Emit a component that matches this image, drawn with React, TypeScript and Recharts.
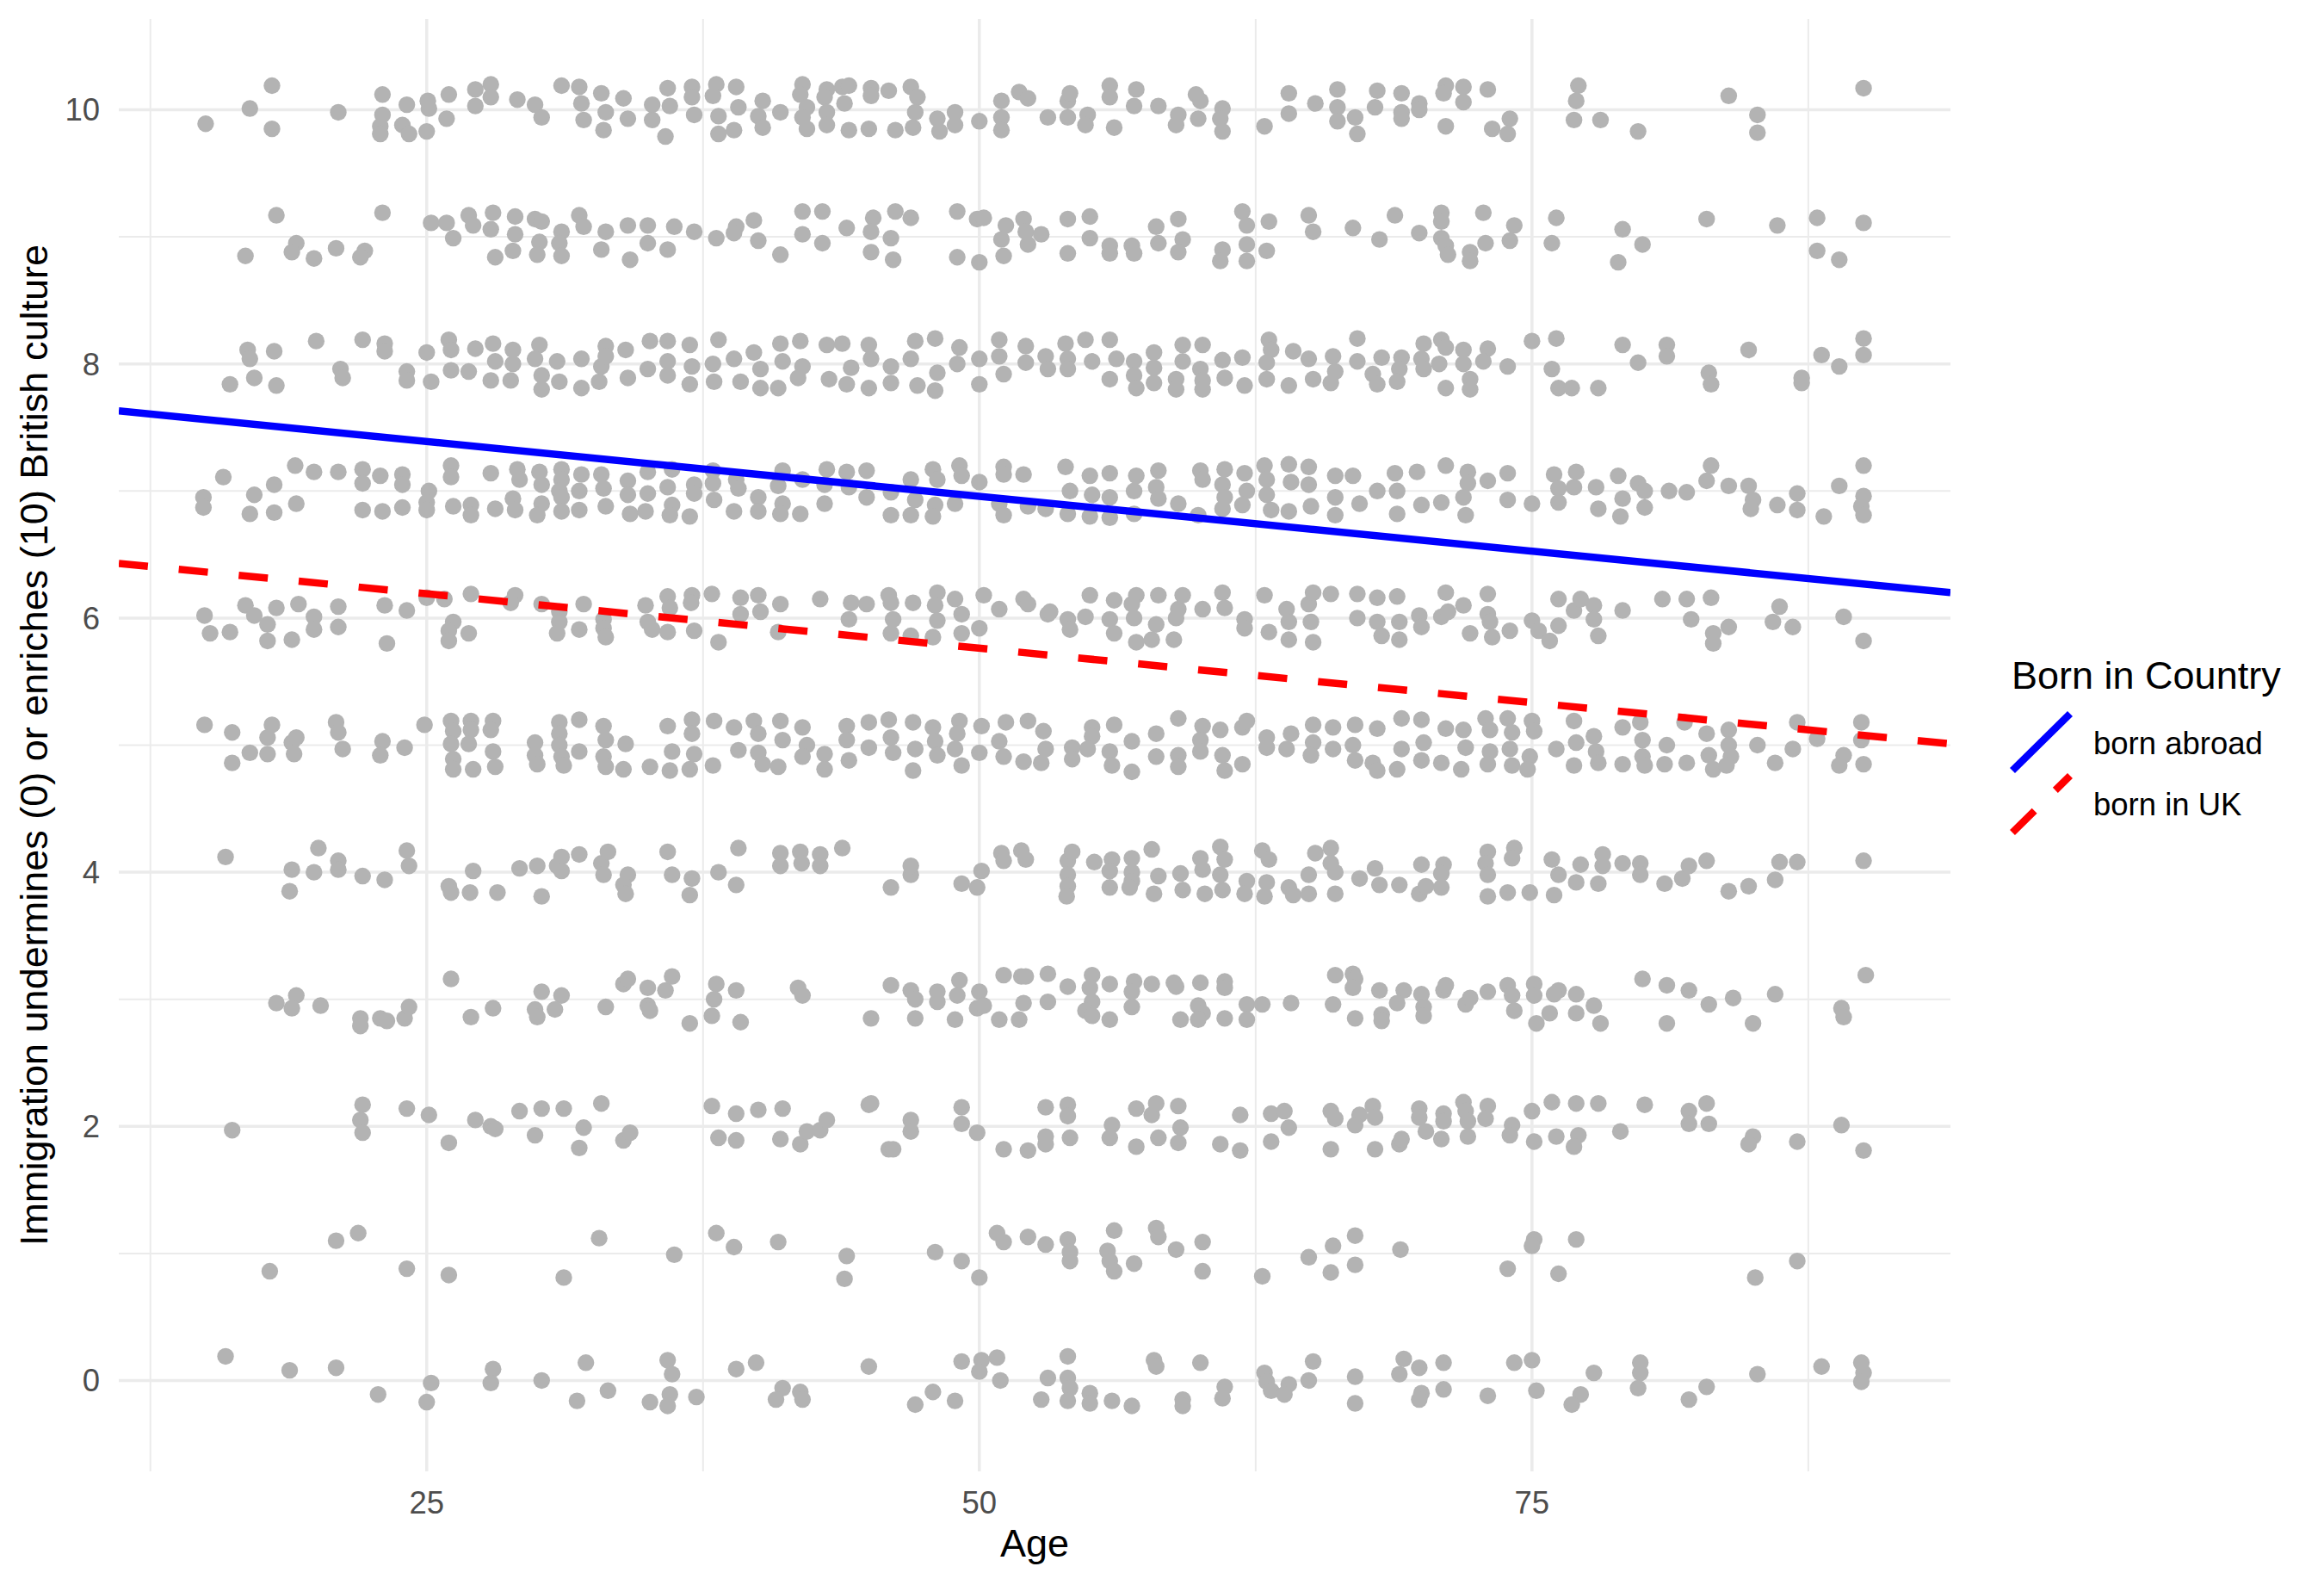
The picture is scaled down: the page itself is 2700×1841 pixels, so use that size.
import { CartesianGrid, Label, Scatter, ScatterChart, XAxis, YAxis } from 'recharts';

// jittered responses, one list per answer level: [age, jittered score]
const score10: [number, number][] = [
  [15.0, 9.89], [17.0, 10.01], [18.0, 10.19], [18.0, 9.85], [21.0, 9.98], [23.0, 10.12], [23.0, 9.96], [22.9, 9.87], [22.9, 9.81], [24.1, 10.04], [23.9, 9.88], [24.2, 9.81], [25.05, 10.07], [25.1, 10.01], [25.0, 9.83], [26.0, 10.12], [25.9, 9.93], [27.2, 10.16], [27.2, 10.03], [27.9, 10.2], [27.9, 10.1], [29.1, 10.08], [29.9, 10.04], [30.2, 9.94], [31.1, 10.19], [31.9, 10.18], [32.0, 10.05], [32.1, 9.92], [32.9, 10.13], [33.1, 9.98], [33.0, 9.84], [33.9, 10.09], [34.1, 9.93], [35.2, 10.04], [35.2, 9.92], [35.9, 10.17], [36.0, 10.03], [35.8, 9.79], [37.0, 10.18], [37.0, 10.1], [37.1, 9.96], [38.1, 10.2], [37.95, 10.11], [38.2, 9.95], [38.2, 9.81], [39.0, 10.18], [39.1, 10.02], [38.9, 9.84], [40.2, 10.07], [40.0, 9.95], [40.2, 9.86], [41.0, 9.98], [42.0, 10.2], [41.9, 10.12], [42.2, 10.02], [42.0, 9.94], [42.2, 9.85], [43.1, 10.16], [43.0, 10.1], [43.1, 9.98], [43.1, 9.88], [43.8, 10.18], [44.1, 10.19], [43.9, 10.05], [44.1, 9.84], [45.0, 9.85], [45.1, 10.17], [45.1, 10.11], [45.9, 10.15], [46.2, 9.84], [46.9, 10.18], [47.2, 10.1], [47.1, 9.98], [47.0, 9.86], [48.1, 9.93], [48.2, 9.83], [48.9, 9.98], [48.9, 9.88], [50.0, 9.91], [51.0, 10.07], [51.0, 9.94], [51.0, 9.84], [51.8, 10.14], [52.2, 10.09], [53.1, 9.94],
  [54.0, 10.07], [54.1, 10.13], [54.0, 9.94], [54.9, 9.96], [54.8, 9.88], [55.9, 10.19], [55.9, 10.1], [56.1, 9.86], [57.1, 10.16], [57.0, 10.03], [58.1, 10.03], [59.0, 9.96], [58.9, 9.88], [59.8, 10.12], [60.0, 10.07], [59.9, 9.93], [61.0, 10.01], [60.9, 9.93], [61.0, 9.83], [62.9, 9.87], [64.0, 10.13], [64.0, 9.97], [65.2, 10.05], [66.2, 10.16], [66.2, 10.02], [66.2, 9.91], [67.0, 9.94], [67.1, 9.81], [68.0, 10.15], [67.9, 10.02], [69.1, 10.13], [69.1, 9.98], [69.1, 9.93], [69.9, 10.05], [69.9, 10.0], [71.1, 10.19], [71.0, 10.13], [71.9, 10.18], [71.9, 10.06], [71.1, 9.87], [73.0, 10.16], [73.2, 9.85], [74.0, 9.93], [73.9, 9.81], [77.1, 10.19], [77.0, 10.07], [76.9, 9.92], [78.1, 9.92], [79.8, 9.83], [83.9, 10.11], [85.2, 9.96], [85.2, 9.82], [90.0, 10.17],
];

const score9: [number, number][] = [
  [16.8, 8.85], [18.2, 9.17], [19.1, 8.95], [18.9, 8.88], [19.9, 8.83], [20.9, 8.91], [22.2, 8.89], [22.0, 8.84], [23.0, 9.19], [25.2, 9.11], [25.9, 9.11], [26.2, 8.99], [26.9, 9.17], [27.1, 9.09], [28.0, 9.19], [27.9, 9.06], [28.1, 8.84], [29.0, 9.16], [29.0, 9.02], [28.9, 8.89], [29.9, 9.14], [30.2, 9.12], [30.1, 8.96], [30.0, 8.86], [31.1, 9.04], [31.0, 8.95], [31.1, 8.85], [31.9, 9.17], [32.1, 9.08], [33.1, 9.04], [32.9, 8.9], [34.1, 9.09], [34.2, 8.82], [35.0, 9.09], [35.0, 8.95], [35.9, 8.9], [36.2, 9.08], [37.1, 9.04], [38.1, 8.99], [39.0, 9.08], [38.9, 9.03], [39.8, 9.13], [40.0, 8.97], [41.0, 8.86], [42.0, 9.2], [42.9, 9.2], [42.0, 9.02], [42.9, 8.95], [44.0, 9.07], [45.2, 9.15], [45.1, 9.04], [45.1, 8.88], [46.0, 8.99], [46.2, 9.2], [46.9, 9.15], [46.1, 8.82], [49.0, 9.2], [49.9, 9.14], [50.2, 9.15], [49.0, 8.84], [50.0, 8.8], [51.2, 9.09], [51.0, 8.98], [51.1, 8.85], [52.0, 9.14], [52.1, 9.04], [52.2, 8.94], [52.8, 9.02],
  [54.0, 9.14], [55.0, 9.16], [55.0, 8.99], [54.0, 8.87], [55.9, 8.93], [55.9, 8.87], [56.9, 8.93], [57.0, 8.87], [58.0, 9.08], [58.1, 8.95], [59.0, 9.14], [59.2, 8.98], [59.0, 8.88], [61.9, 9.2], [62.1, 9.09], [61.0, 8.9], [60.9, 8.81], [62.1, 8.94], [62.1, 8.81], [63.0, 8.89], [63.1, 9.12], [64.9, 9.17], [65.1, 9.04], [66.9, 9.07], [68.1, 8.98], [68.8, 9.17], [69.9, 9.03], [70.9, 9.19], [70.9, 9.12], [70.9, 8.99], [71.1, 8.93], [71.2, 8.86], [72.2, 8.88], [72.2, 8.81], [72.8, 9.19], [72.9, 8.95], [74.2, 9.09], [74.0, 8.97], [76.1, 9.15], [75.9, 8.95], [79.1, 9.06], [80.0, 8.94], [78.9, 8.8], [82.9, 9.14], [86.1, 9.09], [87.9, 9.15], [87.9, 8.89], [88.9, 8.82], [90.0, 9.11],
];

const score8: [number, number][] = [
  [16.1, 7.84], [16.9, 8.11], [17.0, 8.04], [17.2, 7.89], [18.1, 8.1], [18.2, 7.83], [20.0, 8.18], [21.1, 7.96], [21.2, 7.89], [22.1, 8.19], [23.1, 8.16], [23.1, 8.1], [24.1, 7.94], [24.1, 7.87], [25.0, 8.09], [25.2, 7.86], [26.0, 8.19], [26.1, 8.11], [26.1, 7.95], [26.9, 7.94], [27.2, 8.12], [28.0, 8.16], [28.1, 8.02], [27.9, 7.87], [28.9, 8.11], [28.9, 8.0], [28.8, 7.87], [30.1, 8.15], [29.9, 8.04], [30.2, 7.91], [30.2, 7.8], [30.9, 8.02], [31.0, 7.86], [32.0, 8.04], [32.0, 7.81], [32.8, 7.86], [32.9, 7.98], [33.1, 8.14], [33.1, 8.06], [34.0, 8.11], [34.1, 7.89], [35.1, 8.18], [35.0, 7.96], [35.9, 8.18], [35.9, 8.02], [35.9, 7.91], [36.9, 8.15], [37.0, 7.98], [36.9, 7.84], [38.2, 8.19], [37.95, 8.0], [38.0, 7.86], [38.9, 8.04], [39.2, 7.86], [39.8, 8.09], [40.1, 7.96], [40.1, 7.81], [41.0, 8.16], [41.1, 8.02], [40.9, 7.81], [41.9, 8.18], [42.0, 7.98], [41.8, 7.89], [43.1, 8.15], [43.8, 8.16], [43.2, 7.88], [44.2, 7.97], [44.0, 7.84], [45.0, 8.15], [45.1, 8.04], [45.0, 7.81], [46.0, 7.98], [46.0, 7.85], [47.1, 8.18], [48.0, 8.2], [46.9, 8.04], [47.2, 7.83], [48.1, 7.93], [48.0, 7.79], [49.1, 8.13], [49.0, 8.0], [50.0, 8.04], [50.0, 7.84], [50.9, 8.19], [50.9, 8.06], [51.1, 7.92], [52.1, 8.14], [52.1, 8.01], [53.0, 8.06],
  [53.9, 8.16], [54.0, 8.04], [54.0, 7.96], [53.1, 7.96], [54.8, 8.19], [55.1, 8.02], [55.9, 8.19], [55.9, 7.88], [56.2, 8.04], [57.0, 8.02], [57.0, 7.91], [57.1, 7.81], [57.9, 8.09], [57.9, 7.97], [57.9, 7.85], [58.9, 7.88], [58.9, 7.8], [59.2, 8.15], [59.2, 8.02], [60.1, 8.15], [60.0, 7.96], [60.1, 7.87], [60.1, 7.8], [61.0, 8.03], [61.1, 7.89], [61.9, 8.05], [62.0, 7.83], [63.1, 8.19], [63.2, 8.11], [63.0, 8.01], [63.0, 7.88], [64.0, 7.83], [64.2, 8.1], [64.9, 8.04], [65.1, 7.88], [66.0, 8.06], [66.1, 7.94], [65.9, 7.85], [67.1, 8.2], [67.1, 8.02], [67.8, 7.92], [68.0, 7.84], [68.2, 8.05], [69.1, 8.05], [69.0, 7.96], [68.9, 7.86], [70.1, 8.16], [70.0, 8.04], [70.1, 7.96], [70.9, 8.19], [71.1, 8.13], [70.8, 8.0], [71.9, 8.11], [71.9, 8.0], [71.1, 7.81], [72.2, 7.88], [72.2, 7.8], [73.0, 8.12], [72.8, 8.02], [73.9, 7.98], [75.0, 8.18], [76.1, 8.2], [75.9, 7.96], [76.2, 7.81], [76.8, 7.81], [78.0, 7.81], [79.1, 8.15], [79.8, 8.01], [81.1, 8.15], [81.1, 8.06], [83.0, 7.93], [83.1, 7.84], [84.8, 8.11], [87.2, 7.89], [87.2, 7.85], [88.1, 8.07], [88.9, 7.98], [90.0, 8.2], [90.0, 8.07],
];

const score7: [number, number][] = [
  [14.9, 6.95], [14.9, 6.87], [15.8, 7.11], [17.2, 6.97], [17.0, 6.82], [18.1, 7.05], [18.1, 6.83], [19.05, 7.2], [19.1, 6.9], [19.9, 7.15], [21.0, 7.15], [22.1, 7.17], [22.1, 7.06], [22.1, 6.85], [22.9, 7.12], [23.0, 6.84], [23.9, 7.13], [23.9, 7.05], [23.9, 6.87], [25.1, 7.0], [25.0, 6.91], [25.0, 6.85], [26.1, 7.2], [26.1, 7.11], [26.2, 6.88], [27.0, 6.89], [27.0, 6.81], [27.9, 7.14], [28.1, 6.86], [28.9, 6.94], [29.0, 6.85], [29.1, 7.17], [29.2, 7.09], [30.1, 7.15], [30.2, 7.05], [30.2, 6.9], [30.0, 6.81], [31.1, 7.17], [31.1, 7.09], [31.0, 7.0], [31.1, 6.95], [31.1, 6.84], [31.9, 7.0], [31.9, 6.85], [32.0, 7.13], [32.9, 7.13], [33.0, 7.02], [33.1, 6.88], [34.1, 7.08], [34.1, 6.97], [34.2, 6.82], [35.0, 7.15], [35.0, 6.98], [34.9, 6.84], [36.1, 7.17], [35.9, 7.03], [36.1, 6.89], [36.0, 6.81], [36.9, 6.8], [37.1, 7.05], [37.1, 6.98], [37.95, 7.16], [37.95, 7.06], [38.0, 6.93], [39.0, 7.09], [39.1, 7.02], [38.9, 6.84], [40.0, 6.95], [40.0, 6.84], [40.9, 7.04], [41.1, 6.9], [41.1, 7.16], [41.0, 6.82], [41.9, 6.82], [42.0, 7.09], [43.1, 7.17], [43.0, 7.05], [43.0, 6.9], [44.0, 7.15], [44.1, 7.03], [44.9, 7.16], [44.9, 6.95], [46.0, 6.99], [46.0, 6.81], [46.9, 7.09], [47.1, 6.93], [46.9, 6.81], [47.9, 7.17], [48.1, 7.09], [48.0, 6.89], [47.9, 6.8], [49.1, 7.2], [49.2, 7.12], [48.9, 6.9], [50.0, 7.07], [51.1, 7.19], [51.1, 7.13], [52.0, 7.13], [50.9, 6.9], [51.1, 6.81], [52.2, 6.88], [53.0, 6.86],
  [53.9, 7.19], [54.1, 7.0], [54.0, 6.82], [55.0, 7.12], [55.1, 6.97], [55.0, 6.8], [55.9, 7.14], [55.9, 6.95], [55.9, 6.79], [57.1, 7.12], [57.0, 7.0], [57.0, 6.82], [58.1, 7.16], [58.0, 7.03], [58.1, 6.94], [59.0, 6.9], [60.0, 7.16], [60.1, 7.09], [59.9, 6.81], [61.1, 7.17], [61.0, 7.05], [61.1, 6.95], [61.0, 6.86], [62.0, 7.14], [62.1, 7.0], [61.9, 6.89], [62.9, 7.2], [63.0, 7.09], [63.0, 6.97], [63.2, 6.85], [64.0, 7.21], [64.1, 7.07], [64.0, 6.84], [64.9, 7.19], [64.9, 7.05], [65.0, 6.88], [66.1, 7.12], [66.1, 6.95], [66.1, 6.81], [66.9, 7.12], [67.2, 6.9], [68.0, 7.0], [68.8, 7.14], [68.9, 7.0], [68.9, 6.82], [69.8, 7.15], [70.0, 6.89], [71.1, 7.2], [70.9, 6.91], [72.1, 7.15], [72.1, 7.06], [71.9, 6.95], [72.0, 6.81], [73.0, 7.08], [73.9, 7.14], [73.9, 6.93], [75.0, 6.9], [76.0, 7.13], [76.2, 7.02], [76.2, 6.91], [77.0, 7.15], [76.9, 7.03], [77.9, 7.03], [78.0, 6.86], [78.9, 7.12], [79.1, 6.94], [79.0, 6.8], [79.8, 7.06], [80.1, 7.0], [80.1, 6.87], [81.2, 7.0], [82.0, 6.99], [82.9, 7.08], [83.1, 7.2], [83.9, 7.04], [84.8, 7.04], [85.0, 6.93], [84.9, 6.86], [86.1, 6.89], [87.0, 6.98], [87.0, 6.85], [88.2, 6.8], [88.9, 7.04], [90.0, 7.2], [90.0, 6.96], [89.9, 6.88], [90.0, 6.81],
];

const score6: [number, number][] = [
  [14.95, 6.02], [15.2, 5.88], [16.1, 5.89], [16.8, 6.1], [17.2, 6.02], [17.8, 5.95], [17.8, 5.82], [18.2, 6.08], [18.9, 5.83], [19.2, 6.11], [19.9, 6.01], [19.9, 5.91], [21.0, 6.09], [21.0, 5.93], [23.1, 6.1], [23.2, 5.8], [24.1, 6.06], [25.0, 6.16], [25.8, 6.15], [26.2, 5.97], [26.0, 5.9], [26.0, 5.82], [26.9, 5.88], [27.0, 6.19], [29.0, 6.18], [28.8, 6.12], [30.2, 6.11], [31.0, 6.05], [31.0, 5.97], [30.9, 5.88], [32.1, 6.11], [31.9, 5.91], [33.0, 5.99], [33.0, 5.92], [33.1, 5.85], [34.9, 6.1], [35.0, 5.97], [35.2, 5.91], [35.9, 6.17], [36.0, 6.08], [35.9, 5.89], [37.0, 6.18], [36.96, 6.12], [37.1, 5.9], [37.9, 6.19], [38.2, 5.81], [39.2, 6.16], [39.2, 6.03], [40.0, 6.18], [40.1, 6.05], [40.9, 5.89], [41.0, 6.11], [42.8, 6.15], [44.2, 6.12], [44.9, 6.11], [44.1, 5.99], [45.9, 6.18], [46.0, 6.12], [46.1, 5.99], [46.0, 5.88], [47.0, 6.12], [46.9, 5.86], [48.1, 6.2], [48.0, 6.1], [48.1, 5.98], [47.9, 5.85], [48.9, 6.15], [49.2, 6.03], [49.2, 5.88], [50.0, 5.92], [50.2, 6.18], [50.9, 6.07], [52.0, 6.15], [52.2, 6.11], [53.1, 6.03],
  [55.0, 6.18], [54.8, 6.01], [54.0, 5.99], [54.1, 5.91], [53.2, 6.05], [56.1, 6.14], [55.9, 5.99], [56.1, 5.88], [57.1, 6.18], [56.9, 6.11], [57.0, 6.0], [57.1, 5.81], [58.0, 5.95], [57.8, 5.83], [58.1, 6.18], [58.8, 5.83], [59.0, 6.07], [58.9, 6.0], [59.2, 6.18], [60.1, 6.07], [61.0, 6.2], [61.1, 6.08], [62.0, 5.99], [62.0, 5.92], [62.9, 6.18], [63.1, 5.89], [64.0, 5.83], [63.9, 6.07], [64.0, 5.97], [64.9, 6.11], [65.0, 5.97], [65.1, 5.81], [65.1, 6.2], [65.9, 6.19], [67.1, 6.19], [67.1, 6.0], [68.0, 6.16], [68.0, 5.97], [68.2, 5.86], [68.9, 6.17], [69.0, 5.97], [69.0, 5.83], [69.9, 6.02], [70.0, 5.93], [70.9, 6.01], [71.1, 6.2], [71.2, 6.05], [71.9, 6.1], [72.2, 5.88], [73.0, 6.19], [73.0, 6.03], [73.1, 5.97], [73.2, 5.85], [74.0, 5.9], [75.0, 5.98], [75.3, 5.9], [75.8, 5.82], [76.2, 6.15], [76.2, 5.94], [76.9, 6.06], [77.2, 6.15], [77.8, 6.1], [77.8, 5.99], [78.0, 5.86], [79.1, 6.06], [80.9, 6.15], [82.0, 6.15], [82.2, 5.99], [83.1, 6.16], [83.2, 5.88], [83.2, 5.8], [83.9, 5.93], [86.2, 6.09], [85.9, 5.97], [86.8, 5.93], [89.1, 6.01], [90.0, 5.82],
];

const score5: [number, number][] = [
  [14.95, 5.16], [16.2, 5.1], [16.2, 4.86], [17.0, 4.94], [17.8, 4.93], [18.0, 5.16], [17.8, 5.06], [18.9, 5.02], [19.0, 4.93], [19.1, 5.06], [20.9, 5.18], [21.0, 5.1], [21.2, 4.97], [23.0, 5.03], [22.9, 4.92], [24.0, 4.98], [24.9, 5.16], [26.1, 5.19], [26.2, 5.11], [26.1, 5.01], [26.2, 4.89], [26.2, 4.81], [27.1, 4.81], [27.0, 5.19], [27.0, 5.12], [26.9, 5.01], [28.0, 5.19], [27.9, 5.12], [28.0, 4.95], [28.1, 4.83], [29.9, 5.02], [29.9, 4.92], [30.0, 4.85], [31.0, 5.18], [31.0, 5.09], [31.0, 5.0], [31.1, 4.91], [31.2, 4.84], [31.9, 5.2], [31.9, 4.95], [33.0, 5.15], [33.1, 5.04], [33.0, 4.91], [33.1, 4.83], [34.0, 5.01], [33.9, 4.81], [35.1, 4.83], [35.9, 5.15], [36.1, 4.95], [36.0, 4.8], [37.0, 5.2], [37.0, 5.09], [37.1, 4.93], [36.9, 4.81], [38.0, 5.19], [37.95, 4.84], [38.9, 5.14], [39.1, 4.96], [39.8, 5.19], [40.0, 5.09], [40.0, 4.94], [40.2, 4.85], [41.0, 5.19], [41.1, 5.04], [40.9, 4.83], [42.0, 5.14], [42.2, 5.0], [42.0, 4.91], [43.0, 4.93], [43.0, 4.81], [44.0, 5.15], [44.0, 5.04], [44.1, 4.88], [45.0, 5.18], [45.0, 4.98], [45.9, 5.2], [46.0, 5.06], [46.1, 4.94], [47.0, 5.18], [47.1, 4.97], [47.0, 4.8], [47.9, 5.14], [48.0, 5.03], [48.1, 4.92], [49.1, 5.19], [49.0, 5.09], [48.9, 4.97], [49.2, 4.84], [50.1, 5.15], [50.0, 4.94], [50.9, 5.03], [51.1, 4.91], [51.2, 5.18], [52.2, 5.19], [52.0, 4.87], [53.0, 4.97],
  [52.9, 5.11], [52.8, 4.86], [54.2, 4.98], [54.2, 4.89], [55.1, 5.14], [55.1, 5.07], [54.9, 4.97], [56.1, 5.16], [55.9, 4.95], [56.0, 4.84], [56.9, 5.03], [56.9, 4.79], [58.0, 5.09], [58.0, 4.91], [59.0, 5.21], [59.0, 4.92], [59.0, 4.83], [60.1, 5.15], [60.0, 5.04], [60.0, 4.95], [60.9, 5.12], [61.0, 4.92], [61.1, 4.8], [61.9, 4.85], [61.9, 5.14], [62.1, 5.19], [63.0, 5.06], [63.0, 4.98], [63.9, 4.97], [64.1, 5.09], [65.1, 5.16], [65.1, 5.02], [65.0, 4.92], [66.0, 5.14], [66.0, 4.97], [67.0, 5.16], [66.9, 5.0], [67.0, 4.88], [67.8, 4.86], [68.0, 5.13], [68.0, 4.8], [69.1, 5.21], [69.1, 4.97], [68.9, 4.81], [70.0, 5.2], [70.1, 5.02], [70.0, 4.88], [71.1, 5.13], [70.9, 4.86], [71.9, 5.12], [72.0, 4.98], [71.8, 4.81], [72.9, 5.21], [73.1, 5.12], [73.1, 4.95], [73.0, 4.85], [73.9, 5.21], [74.1, 5.1], [74.0, 4.97], [74.1, 4.84], [75.0, 5.19], [75.1, 5.11], [74.9, 4.91], [74.8, 4.81], [76.1, 4.97], [76.9, 5.19], [77.0, 5.02], [76.9, 4.84], [77.8, 5.07], [77.9, 4.95], [78.0, 4.86], [79.1, 5.14], [79.1, 4.85], [79.9, 5.18], [80.0, 5.04], [80.0, 4.91], [80.1, 4.84], [81.0, 4.85], [81.1, 5.0], [81.9, 5.18], [82.0, 4.86], [82.9, 5.09], [83.0, 4.92], [83.2, 4.81], [83.9, 5.12], [83.9, 5.0], [84.0, 4.91], [83.8, 4.84], [85.2, 5.0], [86.0, 4.86], [86.8, 4.97], [87.0, 5.18], [87.9, 5.05], [89.1, 4.92], [88.9, 4.84], [89.9, 5.18], [89.9, 5.04], [90.0, 4.85],
];

const score4: [number, number][] = [
  [15.9, 4.12], [18.9, 4.02], [18.8, 3.85], [20.1, 4.19], [21.0, 4.09], [21.0, 4.02], [19.9, 4.0], [22.1, 3.97], [23.1, 3.94], [24.1, 4.17], [24.2, 4.05], [26.0, 3.89], [26.1, 3.84], [26.96, 3.84], [27.1, 4.01], [28.2, 3.84], [29.2, 4.03], [30.0, 4.05], [30.2, 3.81], [30.9, 4.05], [31.1, 4.12], [31.1, 4.01], [31.9, 4.14], [32.9, 4.07], [33.2, 4.16], [33.0, 3.98], [34.1, 3.98], [33.9, 3.9], [34.0, 3.83], [35.9, 4.16], [36.1, 3.98], [37.0, 3.95], [36.9, 3.82], [38.2, 4.0], [39.0, 3.9], [39.1, 4.19], [41.0, 4.15], [41.0, 4.05], [41.9, 4.16], [41.96, 4.07], [42.8, 4.14], [42.8, 4.05], [43.8, 4.19], [46.0, 3.88], [46.9, 3.98], [46.9, 4.05], [49.2, 3.91], [49.9, 3.88], [50.1, 4.01], [51.0, 4.15], [51.1, 4.09], [51.9, 4.17], [52.1, 4.1],
  [54.0, 4.09], [54.2, 4.16], [54.0, 3.98], [54.0, 3.89], [53.95, 3.81], [55.2, 4.08], [56.0, 4.1], [55.9, 4.01], [55.9, 3.88], [56.9, 4.11], [56.9, 4.0], [56.9, 3.93], [56.8, 3.88], [57.8, 4.18], [58.1, 3.97], [57.9, 3.83], [59.1, 3.99], [59.2, 3.86], [60.0, 4.11], [60.1, 4.02], [60.2, 3.83], [60.9, 4.2], [61.1, 4.1], [60.9, 3.98], [61.0, 3.86], [62.1, 3.93], [62.0, 3.83], [62.8, 4.17], [63.1, 4.1], [63.0, 3.92], [62.9, 3.81], [64.0, 3.88], [64.2, 3.82], [64.9, 3.83], [64.9, 3.98], [65.2, 4.15], [65.9, 4.19], [65.9, 4.07], [66.1, 4.0], [66.1, 3.83], [67.2, 3.95], [67.9, 4.03], [68.1, 3.9], [69.0, 3.9], [70.0, 4.06], [69.9, 3.83], [70.2, 3.89], [71.0, 4.06], [70.9, 3.99], [70.9, 3.88], [73.0, 4.16], [72.9, 4.07], [73.0, 3.98], [73.0, 3.81], [74.2, 4.19], [74.1, 4.11], [73.9, 3.84], [74.9, 3.84], [75.9, 4.1], [76.2, 3.98], [76.0, 3.82], [77.2, 4.06], [77.0, 3.92], [78.2, 4.14], [78.2, 4.05], [78.0, 3.91], [79.1, 4.07], [79.9, 4.07], [79.9, 3.98], [81.0, 3.91], [81.8, 3.95], [82.1, 4.05], [82.9, 4.09], [83.9, 3.85], [84.8, 3.89], [86.0, 3.94], [86.2, 4.08], [87.0, 4.08], [90.0, 4.09],
];

const score3: [number, number][] = [
  [18.2, 2.97], [19.1, 3.03], [18.9, 2.93], [20.2, 2.95], [22.0, 2.85], [22.0, 2.79], [22.9, 2.85], [23.2, 2.83], [24.0, 2.85], [24.2, 2.94], [26.1, 3.16], [27.0, 2.86], [28.0, 2.93], [30.2, 3.06], [29.9, 2.92], [30.0, 2.86], [31.1, 3.03], [30.8, 2.92], [33.1, 2.94], [33.9, 3.12], [34.1, 3.16], [35.0, 3.09], [35.0, 2.95], [35.1, 2.91], [35.8, 3.07], [36.1, 3.18], [38.1, 3.12], [38.0, 3.0], [37.9, 2.87], [39.0, 3.07], [36.9, 2.81], [39.2, 2.82], [41.8, 3.09], [42.0, 3.03], [45.1, 2.85], [46.0, 3.11], [46.9, 3.07], [47.1, 3.0], [47.1, 2.85], [48.1, 3.06], [48.1, 2.98], [49.1, 3.15], [49.0, 3.03], [48.9, 2.84], [50.0, 3.06], [49.9, 2.93], [50.2, 2.95], [51.1, 3.19], [51.9, 3.18], [52.1, 3.18], [52.0, 2.97], [50.9, 2.84], [51.8, 2.84], [53.1, 3.2], [53.1, 2.98],
  [54.0, 3.1], [55.1, 3.19], [55.0, 3.09], [55.1, 2.98], [54.8, 2.91], [55.1, 2.87], [55.9, 3.12], [55.9, 2.84], [57.0, 3.14], [56.9, 3.06], [56.9, 2.94], [57.8, 3.12], [58.8, 3.13], [58.9, 3.1], [60.0, 3.13], [59.9, 2.95], [60.1, 2.89], [59.1, 2.84], [59.9, 2.84], [61.1, 3.14], [61.1, 3.09], [61.1, 2.85], [62.1, 2.96], [62.1, 2.84], [62.8, 2.96], [64.1, 2.97], [66.0, 2.96], [66.1, 3.19], [66.9, 3.2], [67.0, 3.16], [66.9, 3.09], [67.0, 2.85], [68.1, 3.07], [68.2, 2.88], [68.2, 2.83], [69.2, 3.07], [68.9, 2.97], [70.0, 3.04], [70.1, 2.94], [70.1, 2.87], [71.0, 3.07], [71.1, 3.11], [72.0, 2.96], [72.2, 3.01], [73.0, 3.06], [73.9, 3.11], [74.1, 3.03], [74.2, 2.91], [75.1, 3.12], [75.1, 3.03], [75.2, 2.81], [75.8, 2.89], [76.2, 3.07], [76.0, 3.04], [77.0, 3.04], [77.0, 2.89], [77.8, 2.95], [78.1, 2.81], [80.0, 3.16], [81.1, 3.11], [81.1, 2.81], [82.1, 3.07], [83.0, 2.96], [84.1, 3.01], [85.0, 2.81], [86.0, 3.04], [89.0, 2.93], [89.1, 2.86], [90.1, 3.19],
];

const score2: [number, number][] = [
  [16.2, 1.97], [22.1, 2.17], [22.0, 2.05], [22.1, 1.95], [24.1, 2.14], [25.1, 2.09], [26.0, 1.87], [27.2, 2.05], [27.9, 2.0], [28.1, 1.98], [29.2, 2.12], [30.2, 2.14], [29.9, 1.93], [31.2, 2.14], [31.9, 1.83], [32.1, 1.99], [32.9, 2.18], [33.9, 1.89], [34.2, 1.95], [37.9, 2.16], [39.0, 2.1], [38.2, 1.91], [39.0, 1.89], [40.0, 2.13], [41.1, 2.14], [41.0, 1.9], [41.9, 1.86], [42.2, 1.96], [42.8, 1.97], [43.1, 2.05], [45.0, 2.17], [45.1, 2.18], [46.9, 2.05], [46.9, 1.96], [45.9, 1.82], [46.1, 1.82], [49.2, 2.15], [49.2, 2.02], [49.9, 1.95], [51.1, 1.82], [52.2, 1.81], [53.0, 2.15], [53.0, 1.92], [53.0, 1.86],
  [54.0, 2.17], [54.0, 2.08], [54.1, 1.91], [56.0, 2.01], [55.9, 1.91], [57.1, 2.14], [57.8, 2.09], [58.0, 2.18], [59.0, 2.16], [59.1, 1.99], [58.1, 1.91], [59.0, 1.87], [57.1, 1.84], [60.9, 1.86], [61.8, 1.81], [61.8, 2.09], [63.2, 2.1], [63.8, 2.12], [64.0, 1.99], [63.2, 1.88], [65.9, 2.12], [66.1, 2.06], [67.2, 2.09], [67.0, 2.01], [67.8, 2.16], [67.9, 2.07], [65.9, 1.82], [67.9, 1.82], [69.0, 1.86], [69.1, 1.9], [69.9, 2.14], [69.9, 2.07], [71.0, 2.1], [71.0, 2.04], [70.2, 1.96], [70.9, 1.9], [71.9, 2.19], [72.0, 2.12], [72.1, 2.04], [72.1, 1.92], [73.0, 2.16], [72.9, 2.06], [74.1, 2.01], [74.0, 1.93], [75.0, 2.12], [75.1, 1.88], [75.9, 2.19], [76.1, 1.92], [77.0, 2.18], [77.1, 1.93], [76.9, 1.84], [78.0, 2.18], [79.0, 1.96], [80.1, 2.17], [82.1, 2.12], [82.1, 2.02], [82.9, 2.18], [83.0, 2.02], [85.0, 1.92], [84.8, 1.86], [87.0, 1.88], [89.0, 2.01], [90.0, 1.81],
];

const score1: [number, number][] = [
  [17.9, 0.86], [20.9, 1.1], [21.9, 1.16], [24.1, 0.88], [26.0, 0.83], [31.2, 0.81], [32.8, 1.12], [36.2, 0.99], [38.1, 1.16], [38.9, 1.05], [40.9, 1.09], [44.0, 0.98], [43.9, 0.8], [48.0, 1.01], [49.2, 0.94], [50.0, 0.81], [50.8, 1.16], [51.1, 1.09], [52.2, 1.13], [53.0, 1.07],
  [54.0, 1.11], [54.1, 1.01], [54.1, 0.94], [56.1, 1.18], [55.8, 1.02], [55.9, 0.94], [56.1, 0.86], [57.0, 0.92], [58.0, 1.2], [58.1, 1.13], [58.9, 1.03], [60.1, 1.09], [60.1, 0.86], [62.8, 0.82], [64.9, 0.97], [66.0, 1.06], [65.9, 0.85], [67.0, 1.14], [67.0, 0.91], [69.05, 1.03], [73.9, 0.88], [75.1, 1.11], [75.0, 1.06], [77.0, 1.11], [76.2, 0.84], [85.1, 0.81], [87.0, 0.94],
];

const score0: [number, number][] = [
  [15.9, 0.19], [18.8, 0.08], [20.9, 0.1], [22.8, -0.11], [25.2, -0.02], [25.0, -0.17], [28.0, 0.09], [27.9, -0.02], [30.2, 0.0], [32.2, 0.14], [31.8, -0.16], [33.2, -0.08], [35.9, 0.16], [36.1, 0.05], [35.1, -0.17], [36.0, -0.11], [35.9, -0.2], [37.2, -0.13], [39.0, 0.09], [39.9, 0.14], [41.1, -0.06], [40.8, -0.15], [41.9, -0.09], [42.0, -0.15], [45.0, 0.11], [47.1, -0.19], [47.9, -0.09], [48.9, -0.16], [49.2, 0.15], [50.1, 0.16], [50.0, 0.07], [50.8, 0.18], [50.95, 0.0], [53.1, 0.02], [52.8, -0.15],
  [54.0, 0.19], [54.0, 0.02], [54.1, -0.06], [54.0, -0.16], [55.0, -0.1], [55.0, -0.18], [56.0, -0.16], [56.9, -0.2], [57.9, 0.16], [58.0, 0.11], [60.0, 0.14], [59.2, -0.15], [59.2, -0.2], [61.1, -0.05], [61.0, -0.14], [62.9, 0.06], [63.0, -0.01], [63.2, -0.08], [64.0, -0.03], [63.8, -0.11], [65.1, 0.15], [64.9, 0.0], [67.0, 0.03], [67.0, -0.18], [69.2, 0.17], [69.0, 0.05], [69.9, 0.1], [71.0, 0.14], [71.0, -0.07], [70.0, -0.1], [69.9, -0.15], [73.0, -0.12], [74.2, 0.14], [75.0, 0.16], [75.2, -0.08], [77.8, 0.06], [77.2, -0.11], [76.8, -0.19], [79.9, 0.14], [79.9, 0.06], [79.8, -0.06], [82.1, -0.15], [82.9, -0.05], [85.2, 0.05], [88.1, 0.11], [89.9, 0.14], [90.0, 0.06], [89.9, -0.01],
];

// fitted lines by birthplace, evaluated at the panel edges
const abroadFit = [
  { age: 11.07, score: 7.63 },
  { age: 93.93, score: 6.2 },
];
const ukFit = [
  { age: 11.07, score: 6.43 },
  { age: 93.93, score: 5.01 },
];

const xTicks = [25, 50, 75];
const yTicks = [0, 2, 4, 6, 8, 10];
const xMinor = [12.5, 37.5, 62.5, 87.5];
const yMinor = [1, 3, 5, 7, 9];

const points = [score0, score1, score2, score3, score4, score5, score6, score7, score8, score9, score10]
  .flat()
  .map(([age, score]) => ({ age, score }));

const FONT = '"Liberation Sans", Arial, Helvetica, sans-serif';

const Dot = (p: any) => <circle cx={p.cx} cy={p.cy} r={9.7} fill="#B3B3B3" />;
const NoDot = () => <g />;

function LegendBox() {
  return (
    <svg
      width={2700}
      height={1841}
      style={{ position: 'absolute', left: 0, top: 0, pointerEvents: 'none' }}
    >
      <text x={2337} y={800} fontSize={45} fontFamily={FONT} fill="#000">
        Born in Country
      </text>
      <line x1={2338} y1={895} x2={2405} y2={829} stroke="#0000FF" strokeWidth={8.5} />
      <line
        x1={2338}
        y1={967}
        x2={2405}
        y2={901}
        stroke="#FF0000"
        strokeWidth={8.5}
        strokeDasharray="36 34"
      />
      <text x={2432} y={876} fontSize={36.5} fontFamily={FONT} fill="#000">
        born abroad
      </text>
      <text x={2432} y={947} fontSize={36.5} fontFamily={FONT} fill="#000">
        born in UK
      </text>
    </svg>
  );
}

export default function App() {
  const tickStyle = { fill: '#4D4D4D', fontSize: 36.5, fontFamily: FONT };
  return (
    <div style={{ position: 'absolute', left: 0, top: 0, width: 2700, height: 1841, background: '#fff' }}>
      <ScatterChart width={2700} height={1841} margin={{ top: 22, right: 434, bottom: 0, left: 0 }}>
        <CartesianGrid
          stroke="#EBEBEB"
          strokeWidth={2}
          horizontalValues={yMinor}
          verticalValues={xMinor}
        />
        <CartesianGrid
          stroke="#EBEBEB"
          strokeWidth={3.5}
          horizontalValues={yTicks}
          verticalValues={xTicks}
        />
        <XAxis
          type="number"
          dataKey="age"
          domain={[11.07, 93.93]}
          ticks={xTicks}
          allowDataOverflow
          height={132}
          tickLine={false}
          axisLine={false}
          tickSize={0}
          tickMargin={23}
          tick={tickStyle}
        >
          <Label
            content={({ viewBox }: any) => (
              <text
                x={viewBox.x + viewBox.width / 2}
                y={viewBox.y + 99}
                textAnchor="middle"
                fontSize={45}
                fontFamily={FONT}
                fill="#000"
              >
                Age
              </text>
            )}
          />
        </XAxis>
        <YAxis
          type="number"
          dataKey="score"
          domain={[-0.715, 10.715]}
          ticks={yTicks}
          allowDataOverflow
          width={138}
          tickLine={false}
          axisLine={false}
          tickSize={0}
          tickMargin={22}
          tick={tickStyle}
        >
          <Label
            content={({ viewBox }: any) => {
              const cy = viewBox.y + viewBox.height / 2;
              return (
                <text
                  x={55}
                  y={cy}
                  transform={`rotate(-90, 55, ${cy})`}
                  textAnchor="middle"
                  fontSize={45}
                  fontFamily={FONT}
                  fill="#000"
                >
                  Immigration undermines (0) or enriches (10) British culture
                </text>
              );
            }}
          />
        </YAxis>
        <Scatter data={points} shape={Dot} isAnimationActive={false} />
        <Scatter
          data={abroadFit}
          shape={NoDot}
          line={{ stroke: '#0000FF', strokeWidth: 8.5 }}
          isAnimationActive={false}
        />
        <Scatter
          data={ukFit}
          shape={NoDot}
          line={{ stroke: '#FF0000', strokeWidth: 8.5, strokeDasharray: '34 36' }}
          isAnimationActive={false}
        />
      </ScatterChart>
      <LegendBox />
    </div>
  );
}
